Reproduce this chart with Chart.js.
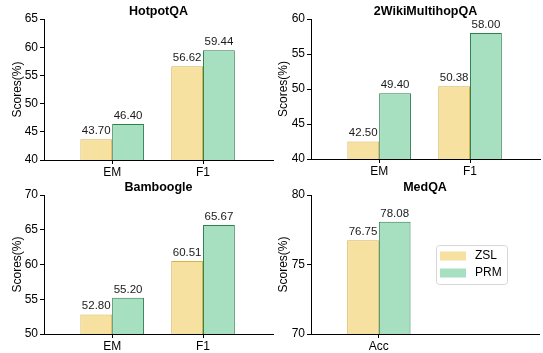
<!DOCTYPE html>
<html lang="en">
<head>
<meta charset="UTF-8">
<title>ZSL vs PRM</title>
<script src="https://cdn.jsdelivr.net/npm/chart.js@4"></script>
<style>
  body { margin: 0; background: #fff; }
  #wrap { position: relative; width: 543px; height: 353px; overflow: hidden; }
  canvas { position: absolute; }
</style>
</head>
<body>
<div id="wrap">
  <canvas id="c0"></canvas>
  <canvas id="c1"></canvas>
  <canvas id="c2"></canvas>
  <canvas id="c3"></canvas>
</div>
<script>
// data
const seriesNames = ['ZSL', 'PRM'];

const hotpotCats = ['EM', 'F1'];
const hotpotZSL = [43.70, 56.62];
const hotpotPRM = [46.40, 59.44];
const hotpotTicks = [40, 45, 50, 55, 60, 65];

const wikiCats = ['EM', 'F1'];
const wikiZSL = [42.50, 50.38];
const wikiPRM = [49.40, 58.00];
const wikiTicks = [40, 45, 50, 55, 60];

const bambooCats = ['EM', 'F1'];
const bambooZSL = [52.80, 60.51];
const bambooPRM = [55.20, 65.67];
const bambooTicks = [50, 55, 60, 65, 70];

const medCats = ['Acc'];
const medZSL = [76.75];
const medPRM = [78.08];
const medTicks = [70, 75, 80];

// styling / layout
const FONT = 'Arial, "Liberation Sans", sans-serif';
Chart.defaults.font.family = FONT;
Chart.defaults.color = '#000';

const XMIN = -0.75, XMAX = 1.77;
const fills = ['#F7E1A1', '#A7DFC1'];
const edges = ['#D5B24A', '#2F7E4E'];

const panels = [
  { id: 'c0', title: 'HotpotQA', cats: hotpotCats, zsl: hotpotZSL, prm: hotpotPRM, ticks: hotpotTicks,
    box: [0, 0, 276, 178], area: [44, 19, 273, 160], titleY: 11.5, yTitleX: 17.5 },
  { id: 'c1', title: '2WikiMultihopQA', cats: wikiCats, zsl: wikiZSL, prm: wikiPRM, ticks: wikiTicks,
    box: [268, 0, 275, 178], area: [311, 19, 540, 159], titleY: 11.5, yTitleX: 284 },
  { id: 'c2', title: 'Bamboogle', cats: bambooCats, zsl: bambooZSL, prm: bambooPRM, ticks: bambooTicks,
    box: [0, 176, 276, 177], area: [44, 193, 273, 334], titleY: 187.5, yTitleX: 17.5 },
  { id: 'c3', title: 'MedQA', cats: medCats, zsl: medZSL, prm: medPRM, ticks: medTicks, legend: true,
    box: [268, 176, 275, 177], area: [311, 193, 539, 334], titleY: 187.5, yTitleX: 284 }
];

const valueLabels = {
  id: 'valueLabels',
  afterDatasetsDraw(chart) {
    const ctx = chart.ctx;
    ctx.save();
    ctx.font = '11.5px ' + FONT;
    ctx.fillStyle = '#1a1a1a';
    ctx.textAlign = 'center';
    ctx.textBaseline = 'bottom';
    chart.data.datasets.forEach((ds, di) => {
      chart.getDatasetMeta(di).data.forEach((bar, i) => {
        ctx.fillText(ds.data[i].y.toFixed(2), bar.x, bar.y - 2.5);
      });
    });
    ctx.restore();
  }
};

const legendBox = {
  id: 'legendBox',
  afterDraw(chart) {
    const a = chart.chartArea, ctx = chart.ctx;
    const w = 71, h = 39;
    const x = a.right - 103, y = (a.top + a.bottom) / 2 - h / 2;
    ctx.save();
    ctx.beginPath();
    ctx.roundRect(x + 0.5, y + 0.5, w, h, 3);
    ctx.fillStyle = 'rgba(255,255,255,0.85)';
    ctx.fill();
    ctx.strokeStyle = '#d6d6d6';
    ctx.lineWidth = 1;
    ctx.stroke();
    ctx.font = '12px ' + FONT;
    ctx.textBaseline = 'middle';
    chart.data.datasets.forEach((ds, i) => {
      const ry = y + 11 + i * 17;
      ctx.fillStyle = ds.backgroundColor;
      ctx.fillRect(x + 4, ry - 4.5, 26, 9);
      ctx.fillStyle = '#000';
      ctx.fillText(ds.label, x + 39, ry);
    });
    ctx.restore();
  }
};

panels.forEach(p => {
  const [bx, by, bw, bh] = p.box;
  const [al, at, ar, ab] = p.area;
  const cv = document.getElementById(p.id);
  cv.width = bw; cv.height = bh;
  cv.style.left = bx + 'px';
  cv.style.top = by + 'px';
  const tTop = p.titleY - by - 7.5;
  const tBottom = Math.max(at - by - tTop - 15, 0);
  const vals = [p.zsl, p.prm];

  new Chart(cv, {
    type: 'bar',
    data: {
      datasets: seriesNames.map((name, s) => ({
        label: name,
        data: p.cats.map((c, i) => ({ x: i, y: vals[s][i] })),
        backgroundColor: fills[s],
        borderColor: edges[s],
        borderWidth: 1,
        categoryPercentage: 0.7,
        barPercentage: 1
      }))
    },
    options: {
      responsive: false,
      animation: false,
      devicePixelRatio: 1,
      layout: { padding: { left: 0, top: 0, right: bx + bw - ar, bottom: 0 } },
      plugins: {
        legend: { display: false },
        tooltip: { enabled: false },
        title: {
          display: true, text: p.title, fullSize: false, color: '#000',
          font: { size: 12.5, weight: 'bold' },
          padding: { top: tTop, bottom: tBottom }
        }
      },
      scales: {
        x: {
          type: 'linear', min: XMIN, max: XMAX, offset: false,
          grid: {
            drawOnChartArea: false, offset: false, tickLength: 4, color: '#000',
            tickColor: ctx => (ctx.tick && p.cats[ctx.tick.value] !== undefined) ? '#000' : 'rgba(0,0,0,0)'
          },
          border: { color: '#000', width: 1 },
          ticks: {
            stepSize: 1, includeBounds: false, autoSkip: false, maxRotation: 0,
            padding: 1, color: '#000', font: { size: 12 },
            callback: v => p.cats[v] ?? ''
          },
          afterFit: s => { s.height = by + bh - ab; }
        },
        y: {
          min: p.ticks[0], max: p.ticks[p.ticks.length - 1],
          grid: { drawOnChartArea: false, tickLength: 4, color: '#000' },
          border: { color: '#000', width: 1 },
          ticks: { padding: 2, color: '#000', font: { size: 12 } },
          afterBuildTicks: s => { s.ticks = p.ticks.map(v => ({ value: v })); },
          title: {
            display: true, text: 'Scores(%)', color: '#000', font: { size: 12 },
            padding: { top: p.yTitleX - bx - 7.2, bottom: 0 }
          },
          afterFit: s => { s.width = al - bx; }
        }
      }
    },
    plugins: p.legend ? [valueLabels, legendBox] : [valueLabels]
  });
});
</script>
</body>
</html>
